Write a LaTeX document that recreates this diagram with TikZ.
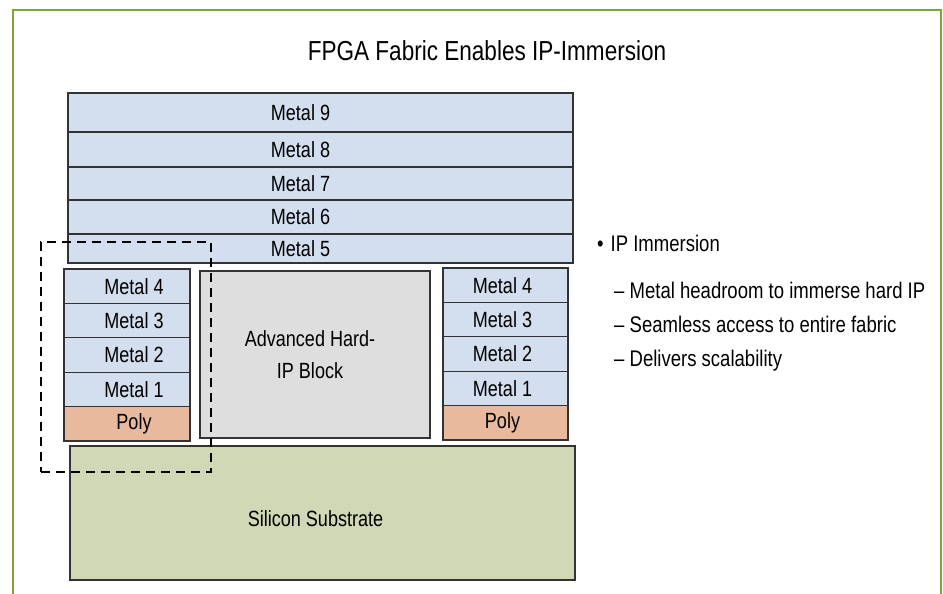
\documentclass[tikz,border=0pt]{standalone}
\usepackage{fontspec}
\setmainfont{Liberation Sans}[FakeStretch=0.82]
\usepackage{tikz}
\usetikzlibrary{shapes, arrows, positioning}
\usepackage{xcolor}
\definecolor{metalBlue}{RGB}{211,222,239}
\definecolor{polyRed}{RGB}{233,185,158}
\definecolor{hardGray}{RGB}{222,222,222}
\definecolor{siliconGreen}{RGB}{209,216,182}
\definecolor{frameGreen}{RGB}{122,166,52}
\tikzstyle{layer} = [
    rectangle,
    draw=black!80,
    line width=1.2pt,
    outer sep=0pt,
    inner sep=0pt,
    minimum height=34.4pt,
    font=\fontsize{22}{26}\selectfont,
    text centered
]
\tikzstyle{metal} = [layer, fill=metalBlue]
\tikzstyle{poly} = [layer, fill=polyRed]
\tikzstyle{topLayer} = [metal, minimum width=505pt]
\tikzstyle{sideLayer} = [minimum width=126pt]
\tikzstyle{layerText} = [font=\fontsize{22}{26}\selectfont, inner sep=0pt]
\tikzstyle{topText} = [layerText, xshift=-20pt]
\tikzstyle{leftText} = [layerText, xshift=7pt]
\tikzstyle{rightText} = [layerText, xshift=-3pt]
\tikzstyle{bulletText} = [
    inner sep=0pt,
    font=\fontsize{22.6}{26}\selectfont
]
\tikzstyle{immersionBox} = [
    rectangle,
    draw=black,
    line width=2pt,
    dash pattern=on 9pt off 6pt,
    inner sep=0pt,
    outer sep=0pt
]
\begin{document}
\begin{tikzpicture}[x=1pt, y=-1pt, node distance=0pt]
            \useasboundingbox (0,0) rectangle (943,594);
            \draw[frameGreen, line width=2pt] (12.5,594) -- (12.5,10.5) -- (940.5,10.5) -- (940.5,594);
            \node[inner sep=0pt, font=\fontsize{27.5}{32}\selectfont, anchor=base] (title) at (487,61) {FPGA Fabric Enables IP-Immersion};

            \node[topLayer, minimum height=39pt, anchor=north west, label={[topText]center:Metal 9}] (metal9) at (68,93) {};
            \node[topLayer, minimum height=35pt, below=of metal9, label={[topText]center:Metal 8}] (metal8) {};
            \node[topLayer, minimum height=33pt, below=of metal8, label={[topText]center:Metal 7}] (metal7) {};
            \node[topLayer, minimum height=34pt, below=of metal7, label={[topText]center:Metal 6}] (metal6) {};
            \node[topLayer, minimum height=29pt, below=of metal6, label={[topText]center:Metal 5}] (metal5) {};

            \node[metal, sideLayer, anchor=north west, label={[leftText]center:Metal 4}] (leftMetal4) at (64,269) {};
            \node[metal, sideLayer, below=of leftMetal4, label={[leftText]center:Metal 3}] (leftMetal3) {};
            \node[metal, sideLayer, below=of leftMetal3, label={[leftText]center:Metal 2}] (leftMetal2) {};
            \node[metal, sideLayer, below=of leftMetal2, label={[leftText]center:Metal 1}] (leftMetal1) {};
            \node[poly, sideLayer, below=of leftMetal1, label={[leftText]center:Poly}] (leftPoly) {};

            \node[metal, sideLayer, minimum width=125pt, anchor=north west, label={[rightText]center:Metal 4}] (rightMetal4) at (443,268) {};
            \node[metal, sideLayer, minimum width=125pt, below=of rightMetal4, label={[rightText]center:Metal 3}] (rightMetal3) {};
            \node[metal, sideLayer, minimum width=125pt, below=of rightMetal3, label={[rightText]center:Metal 2}] (rightMetal2) {};
            \node[metal, sideLayer, minimum width=125pt, below=of rightMetal2, label={[rightText]center:Metal 1}] (rightMetal1) {};
            \node[poly, sideLayer, minimum width=125pt, below=of rightMetal1, label={[rightText]center:Poly}] (rightPoly) {};

            \node[layer, fill=hardGray, minimum width=230pt, minimum height=167pt, anchor=north west, label={[layerText, align=center, font=\fontsize{22}{32}\selectfont, xshift=-5pt]center:Advanced Hard-\\IP Block}] (hardIp) at (200,271) {};
            \node[layer, fill=siliconGreen, minimum width=505pt, minimum height=134pt, anchor=north west, label={[layerText, xshift=-7pt, yshift=-6pt]center:Silicon Substrate}] (substrate) at (70,446) {};

            \node[immersionBox, minimum width=170pt, minimum height=230pt, anchor=north west] (immersion) at (41,242) {};

            \node[bulletText, anchor=base west] (ipImmersion) at (597,251) {\textbullet\hspace{7pt}IP Immersion};
            \node[bulletText, anchor=base west] (itemHeadroom) at (614,298) {-- Metal headroom to immerse hard IP};
            \node[bulletText, anchor=base west] (itemAccess) at (614,332) {-- Seamless access to entire fabric};
            \node[bulletText, anchor=base west] (itemScale) at (614,366) {-- Delivers scalability};
        \end{tikzpicture}
\end{document}
